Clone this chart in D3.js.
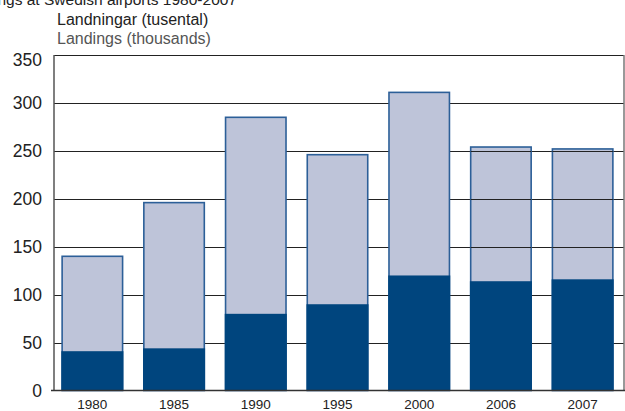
<!DOCTYPE html>
<html>
<head>
<meta charset="utf-8">
<script src="https://cdn.jsdelivr.net/npm/d3@7"></script>
<style>
  html, body { margin: 0; padding: 0; background: #fff; }
  svg { display: block; font-family: "Liberation Sans", Arial, Helvetica, sans-serif; }
</style>
</head>
<body>
<svg id="chart" width="625" height="411"></svg>
<script>
const years = ["1980", "1985", "1990", "1995", "2000", "2006", "2007"];
const totalLandings = [140, 196, 285, 246, 311, 254, 252];
const darkLandings = [41, 44, 80, 90, 120, 114, 116];
const yTicks = [0, 50, 100, 150, 200, 250, 300, 350];
const gridOverBars = ["2006", "2007"];
const titleText = "Landings at Swedish airports 1980-2007";
const labelSv = "Landningar (tusental)";
const labelEn = "Landings (thousands)";

const svg = d3.select("#chart");
const plot = { left: 54, right: 624, top: 55, bottom: 390.5 };

const x = d3.scaleBand().domain(years).range([51.5, 623.5]).paddingInner(0.26).paddingOuter(0.13);
const y = d3.scaleLinear().domain([0, 350]).range([plot.bottom, plot.top]);

const lightColor = "#bec4d9";
const darkColor = "#00457e";
const edgeColor = "#2c5f98";

// title (cut off at top, as in the source)
svg.append("text").attr("x", 237).attr("y", 5).attr("text-anchor", "end")
  .attr("font-size", 15.5).attr("fill", "#222").text(titleText);

svg.append("text").attr("x", 57).attr("y", 25).attr("font-size", 16).attr("fill", "#222").text(labelSv);
svg.append("text").attr("x", 57).attr("y", 44).attr("font-size", 16).attr("fill", "#555").text(labelEn);

// gridlines
const grid = svg.append("g");
grid.selectAll("line").data(yTicks.filter(d => d > 0)).join("line")
  .attr("x1", plot.left).attr("x2", plot.right)
  .attr("y1", d => Math.round(y(d)) + 0.5).attr("y2", d => Math.round(y(d)) + 0.5)
  .attr("stroke", "#222").attr("stroke-width", 1.2);

// bars
const bars = svg.append("g");
bars.selectAll("rect.total").data(years).join("rect").attr("class", "total")
  .attr("x", d => x(d)).attr("width", x.bandwidth())
  .attr("y", (d, i) => y(totalLandings[i])).attr("height", (d, i) => y(0) - y(totalLandings[i]))
  .attr("fill", lightColor).attr("stroke", edgeColor).attr("stroke-width", 1.6);
bars.selectAll("rect.dark").data(years).join("rect").attr("class", "dark")
  .attr("x", d => x(d) - 0.8).attr("width", x.bandwidth() + 1.6)
  .attr("y", (d, i) => y(darkLandings[i])).attr("height", (d, i) => y(0) - y(darkLandings[i]))
  .attr("fill", darkColor);

// gridlines showing through certain bars
gridOverBars.forEach(yr => {
  const i = years.indexOf(yr);
  yTicks.filter(t => t > darkLandings[i] && t < totalLandings[i]).forEach(t => {
    svg.append("line").attr("x1", x(yr)).attr("x2", x(yr) + x.bandwidth())
      .attr("y1", Math.round(y(t)) + 0.5).attr("y2", Math.round(y(t)) + 0.5)
      .attr("stroke", "#222").attr("stroke-width", 1.2);
  });
});

// frame
svg.append("line").attr("x1", plot.left).attr("x2", plot.left).attr("y1", plot.top).attr("y2", plot.bottom)
  .attr("stroke", "#555").attr("stroke-width", 1.5);
svg.append("line").attr("x1", plot.right).attr("x2", plot.right).attr("y1", plot.top).attr("y2", plot.bottom)
  .attr("stroke", "#777").attr("stroke-width", 1.5);
svg.append("line").attr("x1", 51).attr("x2", 625).attr("y1", plot.bottom).attr("y2", plot.bottom)
  .attr("stroke", "#333").attr("stroke-width", 1.5);

// y tick labels
svg.append("g").selectAll("text").data(yTicks).join("text")
  .attr("x", 42).attr("y", d => y(d) + (d === 350 ? 5 : 0))
  .attr("dy", "0.36em").attr("text-anchor", "end")
  .attr("font-size", 17.5).attr("fill", "#222").text(d => d);

// x labels
svg.append("g").selectAll("text").data(years).join("text")
  .attr("x", d => x(d) + x.bandwidth() / 2).attr("y", 408.5)
  .attr("text-anchor", "middle").attr("font-size", 13.5).attr("fill", "#222").text(d => d);
</script>
</body>
</html>
